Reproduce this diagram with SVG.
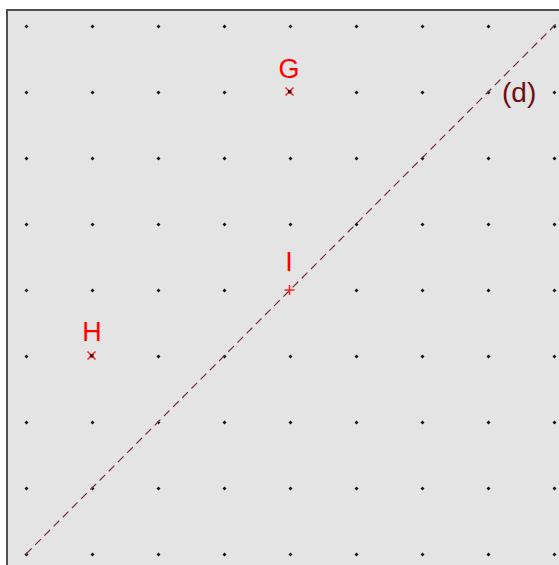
<svg xmlns="http://www.w3.org/2000/svg" width="559" height="565" viewBox="0 0 559 565">
<defs>
<style>
.lbl{font-family:"Liberation Sans",Arial,sans-serif;font-size:27px;fill:#ff0000;text-anchor:middle}
.dl{font-family:"Liberation Sans",Arial,sans-serif;font-size:28px;fill:#6e0e14}
.x{stroke:#ff2020;stroke-width:1.5;fill:none}
</style>
<g id="d0"><path d="M0.5,-1.5L2.5,0.5L0.5,2.5L-1.5,0.5Z" fill="#111"/></g>
</defs>
<rect x="0" y="0" width="559" height="565" fill="#ffffff"/>
<rect x="7" y="10" width="560" height="560" fill="#e4e4e4" stroke="#4f4f4f" stroke-width="2"/>
<g id="grid">
<use href="#d0" x="26" y="26"/><use href="#d0" x="92" y="26"/><use href="#d0" x="158" y="26"/><use href="#d0" x="224" y="26"/><use href="#d0" x="290" y="26"/><use href="#d0" x="356" y="26"/><use href="#d0" x="422" y="26"/><use href="#d0" x="488" y="26"/><use href="#d0" x="554" y="26"/>
<use href="#d0" x="26" y="92"/><use href="#d0" x="92" y="92"/><use href="#d0" x="158" y="92"/><use href="#d0" x="224" y="92"/><use href="#d0" x="356" y="92"/><use href="#d0" x="422" y="92"/><use href="#d0" x="488" y="92"/><use href="#d0" x="554" y="92"/>
<use href="#d0" x="26" y="158"/><use href="#d0" x="92" y="158"/><use href="#d0" x="158" y="158"/><use href="#d0" x="224" y="158"/><use href="#d0" x="290" y="158"/><use href="#d0" x="356" y="158"/><use href="#d0" x="422" y="158"/><use href="#d0" x="488" y="158"/><use href="#d0" x="554" y="158"/>
<use href="#d0" x="26" y="224"/><use href="#d0" x="92" y="224"/><use href="#d0" x="158" y="224"/><use href="#d0" x="224" y="224"/><use href="#d0" x="290" y="224"/><use href="#d0" x="356" y="224"/><use href="#d0" x="422" y="224"/><use href="#d0" x="488" y="224"/><use href="#d0" x="554" y="224"/>
<use href="#d0" x="26" y="290"/><use href="#d0" x="92" y="290"/><use href="#d0" x="158" y="290"/><use href="#d0" x="224" y="290"/><use href="#d0" x="356" y="290"/><use href="#d0" x="422" y="290"/><use href="#d0" x="488" y="290"/><use href="#d0" x="554" y="290"/>
<use href="#d0" x="26" y="356"/><use href="#d0" x="158" y="356"/><use href="#d0" x="224" y="356"/><use href="#d0" x="290" y="356"/><use href="#d0" x="356" y="356"/><use href="#d0" x="422" y="356"/><use href="#d0" x="488" y="356"/><use href="#d0" x="554" y="356"/>
<use href="#d0" x="26" y="422"/><use href="#d0" x="92" y="422"/><use href="#d0" x="158" y="422"/><use href="#d0" x="224" y="422"/><use href="#d0" x="290" y="422"/><use href="#d0" x="356" y="422"/><use href="#d0" x="422" y="422"/><use href="#d0" x="488" y="422"/><use href="#d0" x="554" y="422"/>
<use href="#d0" x="26" y="488"/><use href="#d0" x="92" y="488"/><use href="#d0" x="158" y="488"/><use href="#d0" x="224" y="488"/><use href="#d0" x="290" y="488"/><use href="#d0" x="356" y="488"/><use href="#d0" x="422" y="488"/><use href="#d0" x="488" y="488"/><use href="#d0" x="554" y="488"/>
<use href="#d0" x="26" y="554"/><use href="#d0" x="92" y="554"/><use href="#d0" x="158" y="554"/><use href="#d0" x="224" y="554"/><use href="#d0" x="290" y="554"/><use href="#d0" x="356" y="554"/><use href="#d0" x="422" y="554"/><use href="#d0" x="488" y="554"/><use href="#d0" x="554" y="554"/>
</g>
<g id="connectors">
<line id="line-d" x1="26" y1="554" x2="570" y2="10" stroke="#7b2d3c" stroke-width="1.2" stroke-dasharray="8,5"/>
<text class="dl" x="502" y="102">(d)</text>
</g>
<g id="G">
<path class="x" d="M285.5,87.5l8,8M293.5,87.5l-8,8"/>
<rect x="288" y="90" width="3.5" height="3.5" fill="#500000"/>
<text class="lbl" x="289" y="78">G</text>
</g>
<g id="I">
<path class="x" d="M284.5,290h10M289.5,285v10" stroke="#ff0000"/>
<text class="lbl" x="289" y="271">I</text>
</g>
<g id="H">
<path class="x" d="M87.5,351.5l8,8M95.5,351.5l-8,8"/>
<rect x="90" y="354" width="3.5" height="3.5" fill="#500000"/>
<text class="lbl" x="92" y="341">H</text>
</g>
</svg>
